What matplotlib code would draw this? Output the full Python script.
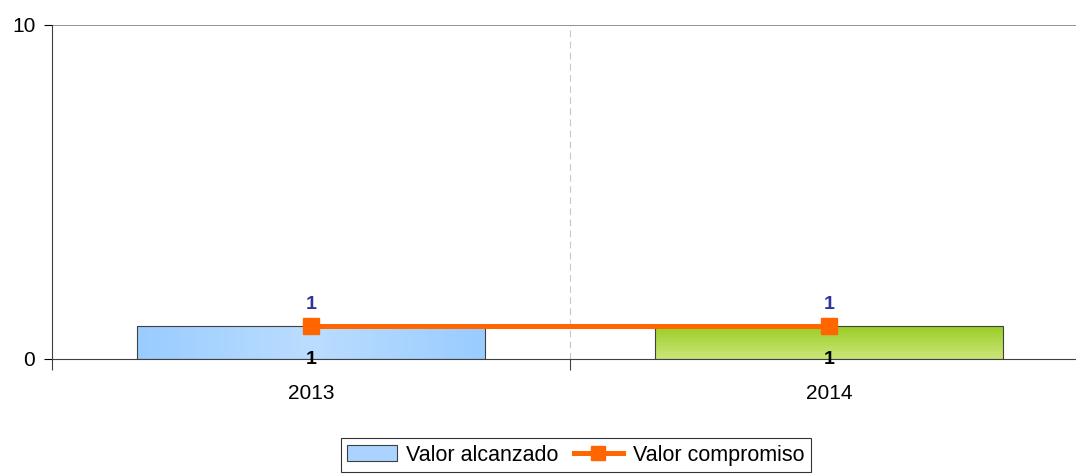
import numpy as np
import matplotlib.pyplot as plt
from matplotlib.colors import LinearSegmentedColormap
from matplotlib.lines import Line2D
from matplotlib.patches import Rectangle

plt.rcParams['font.family'] = ['Liberation Sans', 'DejaVu Sans']

years = ["2013", "2014"]
alcanzado = [1, 1]
compromiso = [1, 1]

# ---------------------------
# Figure / axes
# ---------------------------
fig = plt.figure(figsize=(10.76, 4.74), dpi=100)
# axes runs a little past the right edge, like the original
ax = fig.add_axes([52 / 1076, 115 / 474, 1036 / 1076, 334 / 474])

x = np.arange(len(years))
bw = 0.67

bars = ax.bar(x, alcanzado, width=bw, color="none", edgecolor="#404040",
              linewidth=0.8, zorder=3)

# gradient fills clipped to each bar
blue = LinearSegmentedColormap.from_list("b", ["#99CCFF", "#BBDDFF", "#99CCFF"])
green = LinearSegmentedColormap.from_list("g", ["#CCE67A", "#99CC22"])
grad_h = np.linspace(0, 1, 256).reshape(1, -1)
grad_v = np.linspace(0, 1, 256).reshape(-1, 1)
for bar, cmap, grad in zip(bars, [blue, green], [grad_h, grad_v]):
    x0, y0 = bar.get_x(), bar.get_y()
    w, h = bar.get_width(), bar.get_height()
    im = ax.imshow(grad, cmap=cmap, extent=(x0, x0 + w, y0, y0 + h),
                   origin="lower", aspect="auto", zorder=2)
    im.set_clip_path(bar)

ax.plot(x, compromiso, color="#FF6600", lw=3.6, marker="s", markersize=11.5,
        zorder=4)

for xi, v in zip(x, alcanzado):
    ax.text(xi, 0, str(v), ha="center", va="center", fontsize=14,
            fontweight="bold", color="black", zorder=5)
for xi, v in zip(x, compromiso):
    ax.annotate(str(v), (xi, v), xytext=(0, 9), textcoords="offset points",
                ha="center", va="bottom", fontsize=14, fontweight="bold",
                color="#333399", zorder=5)

ax.set_xlim(-0.5, 1.5)
ax.set_ylim(0, 10)
ax.set_yticks([0, 10])
ax.tick_params(axis="y", length=6, width=0.8, labelsize=15, pad=6)

# category ticks at boundaries, labels at centres
ax.set_xticks([-0.5, 0.5, 1.5])
ax.set_xticklabels([])
ax.set_xticks(x, minor=True)
ax.set_xticklabels(years, minor=True)
ax.tick_params(axis="x", which="major", length=8, width=0.8,
               direction="out", color="#404040")
ax.tick_params(axis="x", which="minor", length=0, labelsize=15, pad=18)

ax.axvline(0.5, color="#C8C8C8", lw=0.8, ls=(0, (6, 4)), zorder=1)
ax.axhline(10, color="#808080", lw=1.2, zorder=1)

for s in ["right", "top"]:
    ax.spines[s].set_visible(False)
ax.spines["left"].set_color("#404040")
ax.spines["bottom"].set_color("#404040")

handles = [
    Rectangle((0, 0), 1, 1, facecolor="#AAD4FF", edgecolor="#404040", lw=0.8),
    Line2D([], [], color="#FF6600", lw=3.6, marker="s", markersize=10),
]
leg = fig.legend(handles, ["Valor alcanzado", "Valor compromiso"],
                 loc="lower center", bbox_to_anchor=(0.535, -0.014), ncol=2,
                 frameon=True, fancybox=False, fontsize=15.5,
                 handlelength=2.3, handletextpad=0.45, columnspacing=0.7,
                 borderpad=0.3, borderaxespad=0.4)
leg.get_frame().set_edgecolor("black")
leg.get_frame().set_linewidth(0.8)

fig.savefig("out.png", dpi=100)
